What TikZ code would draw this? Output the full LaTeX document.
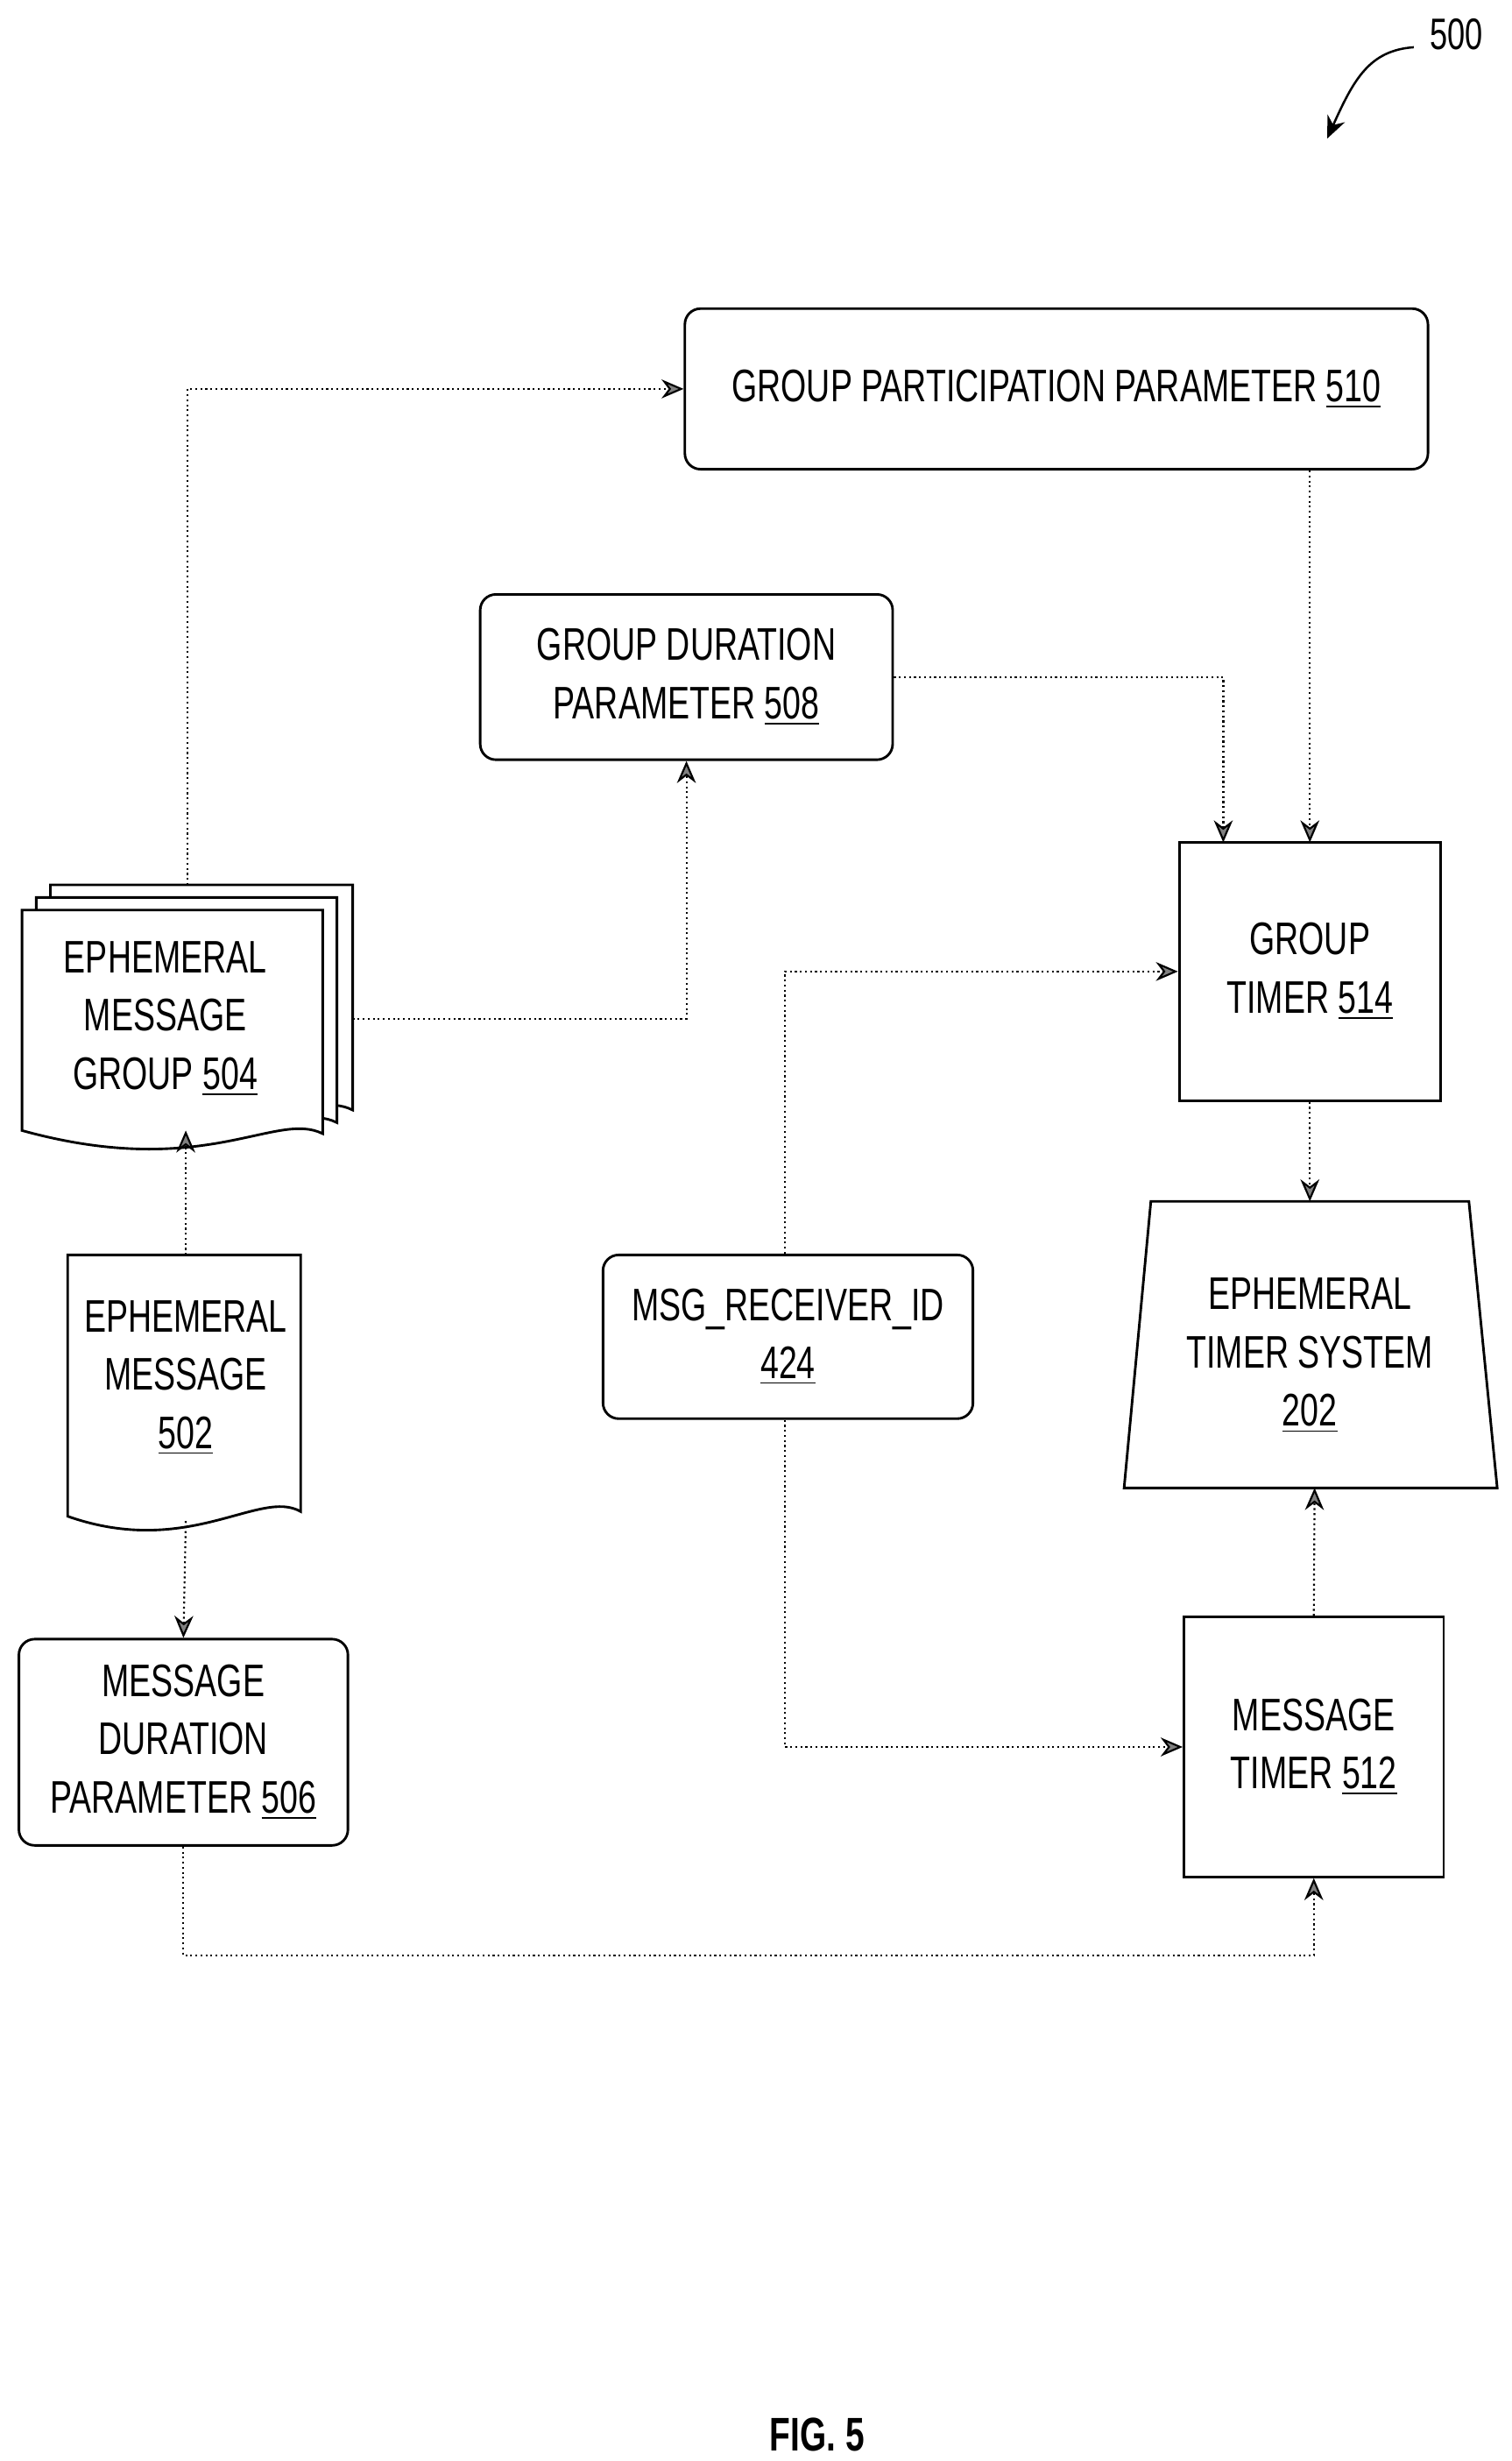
\documentclass[tikz,border=0pt]{standalone}
\usepackage{fontspec}
\setmainfont[FakeStretch=0.72]{Liberation Sans}
\usetikzlibrary{arrows.meta,shapes.geometric}
\begin{document}
\begin{tikzpicture}[x=0.5pt,y=-0.5pt,
  box/.style={draw,line width=0.8pt,rounded corners=5pt,align=center,inner sep=0pt,font=\fontsize{14.5}{18.5}\selectfont},
  sbox/.style={draw,line width=0.8pt,align=center,inner sep=0pt,font=\fontsize{14.5}{18.5}\selectfont},
  lbl/.style={align=center,font=\fontsize{14.5}{18.5}\selectfont},
  con/.style={line width=0.6pt,densely dotted,-{Stealth[length=7pt,width=6pt,fill=gray]}},
  sh/.style={draw,line width=0.8pt,fill=white}]
\useasboundingbox (0,0) rectangle (960,1563);
% 500 label
\node[font=\fontsize{14}{16}\selectfont] (n500) at (925,22) {500};
\draw[line width=0.7pt,-{Stealth[length=7pt,width=6pt]}] (898,30) .. controls (870,32) and (860,50) .. (843,88);
% nodes
\node[box,minimum width=236pt,minimum height=51pt] (gpp) at (671,247) {GROUP PARTICIPATION PARAMETER \underline{510}};
\node[box,minimum width=131pt,minimum height=52.5pt] (gdp) at (436,430) {GROUP DURATION\\PARAMETER \underline{508}};
\node[box,minimum width=104.5pt,minimum height=65.5pt] (mdp) at (116.5,1106.5) {MESSAGE\\DURATION\\PARAMETER \underline{506}};
\node[box,minimum width=117.5pt,minimum height=52pt] (mri) at (500.5,849) {MSG\_RECEIVER\_ID\\\underline{424}};
\node[sbox,minimum width=83pt,minimum height=82pt] (gt) at (832,617) {GROUP\\TIMER \underline{514}};
\node[sbox,minimum width=82.5pt,minimum height=82.5pt] (mt) at (834.5,1109.5) {MESSAGE\\TIMER \underline{512}};
% trapezoid
\draw[line width=0.8pt] (731,763) -- (933,763) -- (951,945) -- (714,945) -- cycle;
\coordinate (etsT) at (832,763); \coordinate (etsB) at (835,945);
\node[lbl] (ets) at (832,861) {EPHEMERAL\\TIMER SYSTEM\\\underline{202}};
% EMG stack
\draw[sh] (32,562) -- (224,562) -- (224,705) .. controls (195,690) and (150,735) .. (32,700) -- cycle;
\draw[sh] (23,570) -- (214,570) -- (214,713) .. controls (185,698) and (140,743) .. (23,708) -- cycle;
\draw[sh] (14,578) -- (205,578) -- (205,720) .. controls (175,705) and (130,750) .. (14,718) -- cycle;
\node[lbl] (emg) at (105,647) {EPHEMERAL\\MESSAGE\\GROUP \underline{504}};
\coordinate (emgT) at (119,562); \coordinate (emgR) at (224,647); \coordinate (emgB) at (118,718);
% EM
\draw[sh] (43,797) -- (191,797) -- (191,960) .. controls (165,945) and (120,990) .. (43,963) -- cycle;
\node[lbl] (em) at (118,875) {EPHEMERAL\\MESSAGE\\\underline{502}};
\coordinate (emT) at (118,797); \coordinate (emB) at (118,966);
\coordinate (gtN2) at (777,535); \coordinate (gtN1) at (832,535);
% FIG
\node[font=\bfseries\fontsize{15}{18}\selectfont] (fig) at (519,1546) {FIG. 5};
% connectors
\draw[con] (emgT) |- (gpp.west);
\draw[con] (emgR) -| (gdp.south);
\draw[con] (gdp.east) -| (gtN2);
\draw[con] (gpp.south -| gtN1) -- (gtN1);
\draw[con] (emT) -- (emgB);
\draw[con] (emB) -- (mdp.north);
\draw[con] ([xshift=-1]mri.north) |- (gt.west);
\draw[con] ([xshift=-1]mri.south) |- (mt.west);
\draw[con] (mdp.south) -- (116.5,1242) -| (mt.south);
\draw[con] (gt.south) -- (etsT);
\draw[con] (mt.north) -- (etsB);
\end{tikzpicture}
\end{document}
